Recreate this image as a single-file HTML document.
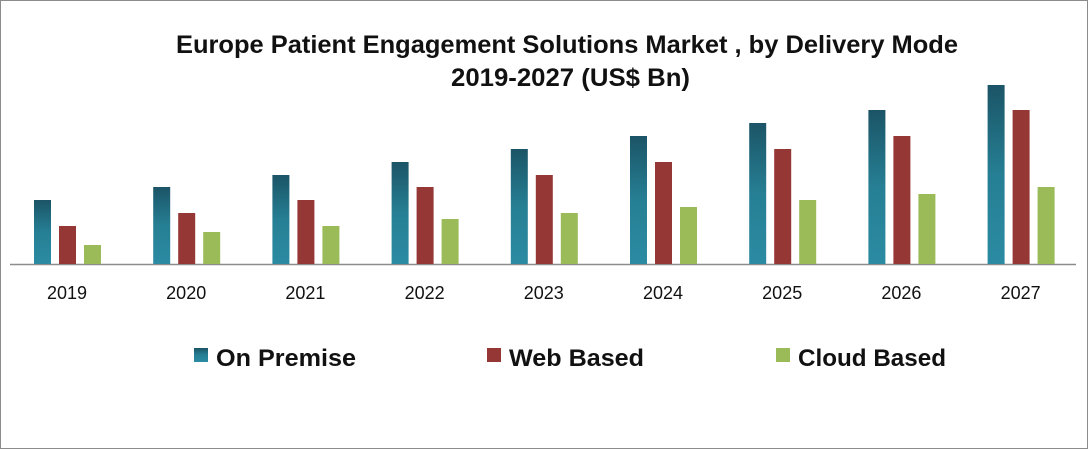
<!DOCTYPE html>
<html><head><meta charset="utf-8"><style>
body{margin:0;background:#fff}
svg{display:block;font-family:"Liberation Sans",Calibri,sans-serif}
</style></head><body>
<svg id="c" width="1088" height="449">
<defs>
<linearGradient id="gT" x1="0" y1="0" x2="0" y2="1"><stop offset="0" stop-color="#1b5466"/><stop offset="0.5" stop-color="#267f94"/><stop offset="1" stop-color="#2b8ba2"/></linearGradient>
</defs>
<rect x="0.5" y="0.5" width="1087" height="448" fill="#fff" stroke="#8c8c8c"/>
<text x="176" y="53" textLength="782" lengthAdjust="spacingAndGlyphs" font-size="25" font-weight="bold" fill="#111">Europe Patient Engagement Solutions Market , by Delivery Mode</text>
<text x="451" y="86" textLength="239" lengthAdjust="spacingAndGlyphs" font-size="25" font-weight="bold" fill="#111">2019-2027 (US$ Bn)</text>
<line x1="10" y1="264.5" x2="1076" y2="264.5" stroke="#8c8c8c" stroke-width="1.5"/>
<g id="bars"></g>
<g id="labels"></g>
<g>
<rect x="194" y="348" width="14" height="14" fill="url(#gT)"/>
<text x="216" y="366" textLength="140" lengthAdjust="spacingAndGlyphs" font-size="24" font-weight="bold" fill="#111">On Premise</text>
<rect x="487" y="348" width="14" height="14" fill="#953735"/>
<text x="509" y="366" textLength="135" lengthAdjust="spacingAndGlyphs" font-size="24" font-weight="bold" fill="#111">Web Based</text>
<rect x="776" y="348" width="14" height="14" fill="#9bbb59"/>
<text x="798" y="366" textLength="148" lengthAdjust="spacingAndGlyphs" font-size="24" font-weight="bold" fill="#111">Cloud Based</text>
</g>
</svg>
<script>
const categories=["2019","2020","2021","2022","2023","2024","2025","2026","2027"];
const onPremise=[6.4,7.7,8.9,10.2,11.5,12.8,14.1,15.4,17.9];
const webBased=[3.8,5.1,6.4,7.7,8.9,10.2,11.5,12.8,15.4];
const cloudBased=[1.9,3.2,3.8,4.5,5.1,5.7,6.4,7.0,7.7];
const baseY=264, pxPerUnit=10;
const x0=67, groupStep=119.2, barW=17, barStep=25;
const yScale=v=>baseY-v*pxPerUnit;
const xCenter=i=>x0+i*groupStep;
const NS="http://www.w3.org/2000/svg";
const series=[["on-premise",onPremise,"url(#gT)"],["web-based",webBased,"#953735"],["cloud-based",cloudBased,"#9bbb59"]];
const bars=document.getElementById('bars'),labels=document.getElementById('labels');
categories.forEach((c,i)=>{
  series.forEach((s,j)=>{
    const r=document.createElementNS(NS,'rect');
    const y=yScale(s[1][i]);
    r.setAttribute('x',xCenter(i)-33+j*barStep);
    r.setAttribute('y',y);
    r.setAttribute('width',barW);
    r.setAttribute('height',baseY-y);
    r.setAttribute('fill',s[2]);
    
    
    bars.appendChild(r);
  });
  const t=document.createElementNS(NS,'text');
  t.setAttribute('x',xCenter(i));
  t.setAttribute('y',299);
  t.setAttribute('text-anchor','middle');
  t.setAttribute('font-size','18');
  t.setAttribute('fill','#111');
  t.textContent=c;
  
  
  labels.appendChild(t);
});
</script>
</body></html>
